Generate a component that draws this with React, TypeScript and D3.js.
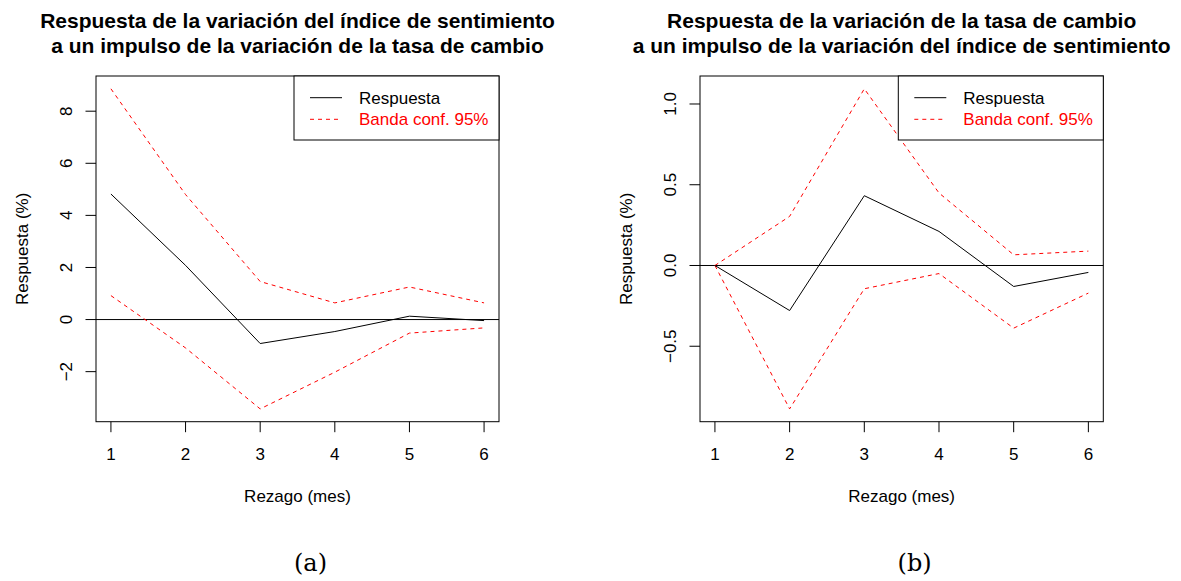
import React from "react";
import * as d3 from "d3";

// Lags on the horizontal axis (months)
const lags = [1, 2, 3, 4, 5, 6];

// Panel (a): sentiment index response to an exchange-rate impulse
const respA = [4.82, 2.08, -0.92, -0.46, 0.13, -0.04];
const upperA = [8.86, 4.8, 1.46, 0.64, 1.25, 0.64];
const lowerA = [0.92, -1.09, -3.43, -2.02, -0.52, -0.32];
const yTicksA = [-2, 0, 2, 4, 6, 8];

// Panel (b): exchange-rate response to a sentiment-index impulse
const respB = [0, -0.279, 0.432, 0.211, -0.13, -0.043];
const upperB = [0, 0.304, 1.094, 0.449, 0.066, 0.089];
const lowerB = [0, -0.888, -0.144, -0.05, -0.388, -0.171];
const yTicksB = [-0.5, 0, 0.5, 1.0];

const titleA = [
  "Respuesta de la variación del índice de sentimiento",
  "a un impulso de la variación de la tasa de cambio",
];
const titleB = [
  "Respuesta de la variación de la tasa de cambio",
  "a un impulso de la variación del índice de sentimiento",
];

const SANS = "'Liberation Sans', Arial, Helvetica, sans-serif";
const SERIF = "'DejaVu Serif', 'Liberation Serif', serif";

// R-style axis range: data extent padded by 4% on each side
function padded(values: number[]): [number, number] {
  const [lo, hi] = d3.extent(values) as [number, number];
  const pad = (hi - lo) * 0.04;
  return [lo - pad, hi + pad];
}

type PanelProps = {
  left: number;
  right: number;
  top: number;
  bottom: number;
  title: string[];
  resp: number[];
  upper: number[];
  lower: number[];
  yTicks: number[];
  fmt: (v: number) => string;
  caption: string;
};

function Panel({ left, right, top, bottom, title, resp, upper, lower, yTicks, fmt, caption }: PanelProps) {
  const x = d3.scaleLinear().domain(padded(lags)).range([left, right]);
  const y = d3
    .scaleLinear()
    .domain(padded([...resp, ...upper, ...lower]))
    .range([bottom, top]);

  const line = d3
    .line<number>()
    .x((_, i) => x(lags[i]))
    .y((d) => y(d));

  const cx = (left + right) / 2;
  const cy = (top + bottom) / 2;
  const tick = 10.5;
  const legW = 205;
  const legH = 64;
  const legX = right - legW;

  return (
    <g>
      {title.map((t, i) => (
        <text
          key={i}
          x={cx}
          y={28 + i * 25}
          textAnchor="middle"
          fontFamily={SANS}
          fontWeight="bold"
          fontSize={21}
          fill="#000"
        >
          {t}
        </text>
      ))}

      {/* zero reference line */}
      <line x1={left} x2={right} y1={y(0)} y2={y(0)} stroke="#000" strokeWidth={1} />

      {/* confidence band */}
      <path d={line(upper) || ""} fill="none" stroke="#ff0000" strokeWidth={1} strokeDasharray="4,4" />
      <path d={line(lower) || ""} fill="none" stroke="#ff0000" strokeWidth={1} strokeDasharray="4,4" />
      {/* impulse response */}
      <path d={line(resp) || ""} fill="none" stroke="#000" strokeWidth={1} />

      {/* plot frame */}
      <rect x={left} y={top} width={right - left} height={bottom - top} fill="none" stroke="#000" strokeWidth={1} />

      {/* x axis */}
      {lags.map((v) => (
        <g key={"x" + v}>
          <line x1={x(v)} x2={x(v)} y1={bottom} y2={bottom + tick} stroke="#000" strokeWidth={1} />
          <text x={x(v)} y={460} textAnchor="middle" fontFamily={SANS} fontSize={17} fill="#000">
            {v}
          </text>
        </g>
      ))}
      <text x={cx} y={501.5} textAnchor="middle" fontFamily={SANS} fontSize={17} fill="#000">
        Rezago (mes)
      </text>

      {/* y axis */}
      {yTicks.map((v) => (
        <g key={"y" + v}>
          <line x1={left - tick} x2={left} y1={y(v)} y2={y(v)} stroke="#000" strokeWidth={1} />
          <text
            transform={`translate(${left - 24},${y(v)}) rotate(-90)`}
            textAnchor="middle"
            fontFamily={SANS}
            fontSize={17}
            fill="#000"
          >
            {fmt(v)}
          </text>
        </g>
      ))}
      <text
        transform={`translate(${left - 68},${cy}) rotate(-90)`}
        textAnchor="middle"
        fontFamily={SANS}
        fontSize={17}
        fill="#000"
      >
        Respuesta (%)
      </text>

      {/* legend */}
      <rect x={legX} y={top} width={legW} height={legH} fill="#fff" stroke="#000" strokeWidth={1} />
      <line x1={legX + 16} x2={legX + 48} y1={top + 21.7} y2={top + 21.7} stroke="#000" strokeWidth={1} />
      <text x={legX + 65} y={top + 21.7} dy="0.35em" fontFamily={SANS} fontSize={17} fill="#000">
        Respuesta
      </text>
      <line
        x1={legX + 16}
        x2={legX + 48}
        y1={top + 43.3}
        y2={top + 43.3}
        stroke="#ff0000"
        strokeWidth={1}
        strokeDasharray="4,4"
      />
      <text x={legX + 65} y={top + 43.3} dy="0.35em" fontFamily={SANS} fontSize={17} fill="#ff0000">
        Banda conf. 95%
      </text>

      <text x={cx + 13} y={571} textAnchor="middle" fontFamily={SERIF} fontSize={24} fill="#000">
        {caption}
      </text>
    </g>
  );
}

export default function App() {
  return (
    <svg
      width={1181}
      height={581}
      style={{ position: "absolute", left: 0, top: 0, background: "#fff" }}
    >
      <rect x={0} y={0} width={1181} height={581} fill="#fff" />
      <Panel
        left={96}
        right={499}
        top={76}
        bottom={421.7}
        title={titleA}
        resp={respA}
        upper={upperA}
        lower={lowerA}
        yTicks={yTicksA}
        fmt={(v) => d3.format("d")(v)}
        caption="(a)"
      />
      <Panel
        left={700}
        right={1103.3}
        top={76}
        bottom={421.7}
        title={titleB}
        resp={respB}
        upper={upperB}
        lower={lowerB}
        yTicks={yTicksB}
        fmt={(v) => d3.format(".1f")(v)}
        caption="(b)"
      />
    </svg>
  );
}
